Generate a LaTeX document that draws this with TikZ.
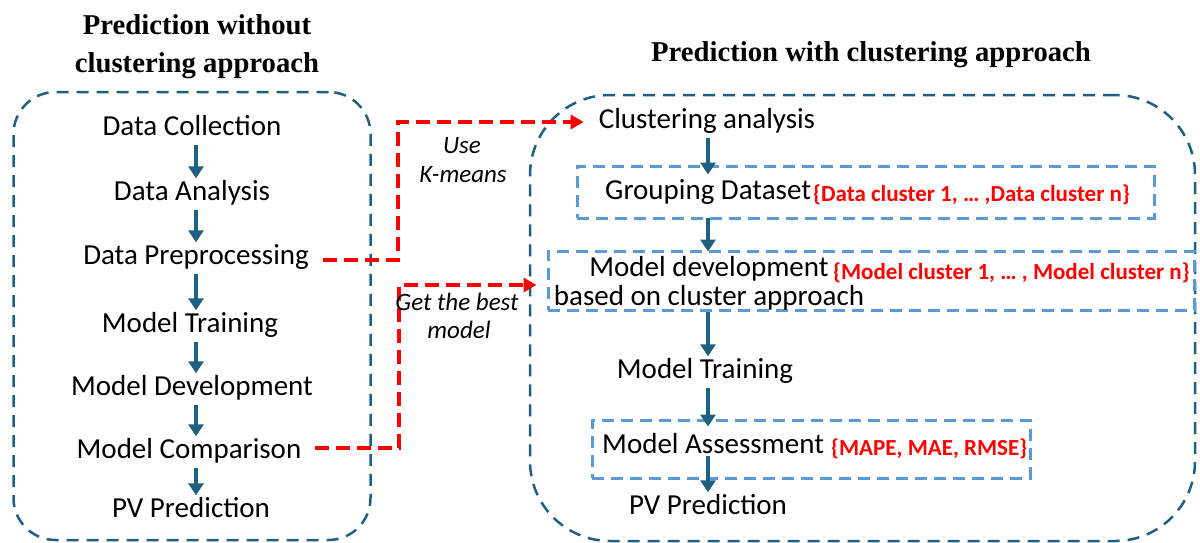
\documentclass[tikz,border=0pt]{standalone}
\usepackage{fontspec}
\setmainfont{Carlito}
\newfontfamily\titlefont{Liberation Serif}
\usetikzlibrary{arrows.meta}
\definecolor{teal1}{HTML}{1F5F7F}
\definecolor{blue1}{HTML}{5B9BD5}
\definecolor{red1}{HTML}{FF0000}
\tikzset{
  txt/.style={font=\fontsize{29}{33}\selectfont, inner sep=3pt, text height=19pt, text depth=6pt},
  redtxt/.style={font=\fontsize{23}{26}\selectfont\bfseries, text=red1, inner sep=1pt},
  itxt/.style={font=\fontsize{25}{29}\selectfont\itshape, inner sep=1pt},
  ttl/.style={font=\titlefont\fontsize{28.7}{38}\selectfont\bfseries, align=center, inner sep=0pt},
  flowarr/.style={draw=teal1, line width=3.5pt, -{Triangle[width=15pt,length=12pt]}},
  reddash/.style={draw=red1, line width=3.5pt, dash pattern=on 14pt off 7pt, -{Triangle[width=14pt,length=13pt]}},
  bigbox/.style={draw=teal1, line width=2.5pt, dash pattern=on 12pt off 8pt, inner sep=0pt},
  bluebox/.style={draw=blue1, line width=3pt, dash pattern=on 12pt off 7pt, inner sep=0pt},
}
\begin{document}
\begin{tikzpicture}[x=1pt,y=-1pt]
\useasboundingbox (0,0) rectangle (1200,542);
% titles
\node[ttl] (t1) at (197,47) {Prediction without\\clustering approach};
\node[ttl] (t2) at (871,55) {Prediction with clustering approach};
% containers
\node[bigbox, rounded corners=42pt, minimum width=357pt, minimum height=448pt] (lb) at (192,316) {};
\node[bigbox, rounded corners=80pt, minimum width=665pt, minimum height=446pt] (rb) at (862.5,318) {};
% blue dashed boxes
\node[bluebox, minimum width=577pt, minimum height=52pt] (b1) at (865.5,192) {};
\node[bluebox, minimum width=646pt, minimum height=59pt] (b2) at (871,280.5) {};
\node[bluebox, minimum width=438pt, minimum height=58pt] (b3) at (811,449) {};
% left column
\node[txt] (dc) at (192,129) {Data Collection};
\node[txt] (da) at (192,194) {Data Analysis};
\node[txt] (dp) at (196,258) {Data Preprocessing};
\node[txt] (mt) at (190,326) {Model Training};
\node[txt] (md) at (192,389) {Model Development};
\node[txt] (mc) at (189,452) {Model Comparison};
\node[txt] (pv) at (191,511) {PV Prediction};
\foreach \a/\b in {dc/da,da/dp,dp/mt,mt/md,md/mc,mc/pv}{
  \draw[flowarr] ([xshift=4pt]\a.south -| lb.center) -- ([xshift=4pt]\b.north -| lb.center);
}
% right column
\node[txt] (ca) at (707,122) {Clustering analysis};
\node[txt, anchor=west] (gd) at (602,193) {Grouping Dataset};
\node[redtxt, anchor=west] (gdr) at (812,195) {\{Data cluster 1, … ,Data cluster n\}};
\node[txt, align=center, text height=, text depth=, font=\fontsize{29}{29}\selectfont] (mdc) at (709,283) {Model development\\based on cluster approach};
\node[redtxt, anchor=west] (mdr) at (832,273) {\{Model cluster 1, … , Model cluster n\}};
\node[txt] (rmt) at (705,372) {Model Training};
\node[txt, anchor=west] (ma) at (599,447) {Model Assessment};
\node[redtxt, anchor=west] (mar) at (830,449) {\{MAPE, MAE, RMSE\}};
\node[txt] (rpv) at (708,508) {PV Prediction};
\coordinate (ax) at (708,0);
\draw[flowarr] (ca.south -| ax) -- ([yshift=-10pt]b1.north -| ax);
\draw[flowarr] ([yshift=2pt]b1.south -| ax) -- ([yshift=-2pt]b2.north -| ax);
\draw[flowarr] (b2.south -| ax) -- (rmt.north -| ax);
\draw[flowarr] (rmt.south -| ax) -- ([yshift=-8pt]b3.north -| ax);
\draw[flowarr] ([yshift=7pt]ma.south -| ax) -- (rpv.north -| ax);
% red connectors
\coordinate (r1) at (387,0);
\coordinate (r2) at (389,0);
\draw[reddash] ([xshift=11pt,yshift=-2pt]dp.east) -- ([xshift=11pt,yshift=-2pt]dp.east -| r1) |- ([xshift=-12pt]ca.west);
\draw[reddash] ([xshift=10pt,yshift=4pt]mc.east) -- ([xshift=10pt,yshift=4pt]mc.east -| r2) |- ([xshift=-10pt,yshift=-4.5pt]b2.west);
\node[itxt] (u1) at (462,146) {Use};
\node[itxt] (u2) at (463,175) {K-means};
\node[itxt] (g1) at (457,302) {Get the best};
\node[itxt] (g2) at (459,330) {model};
\end{tikzpicture}
\end{document}
